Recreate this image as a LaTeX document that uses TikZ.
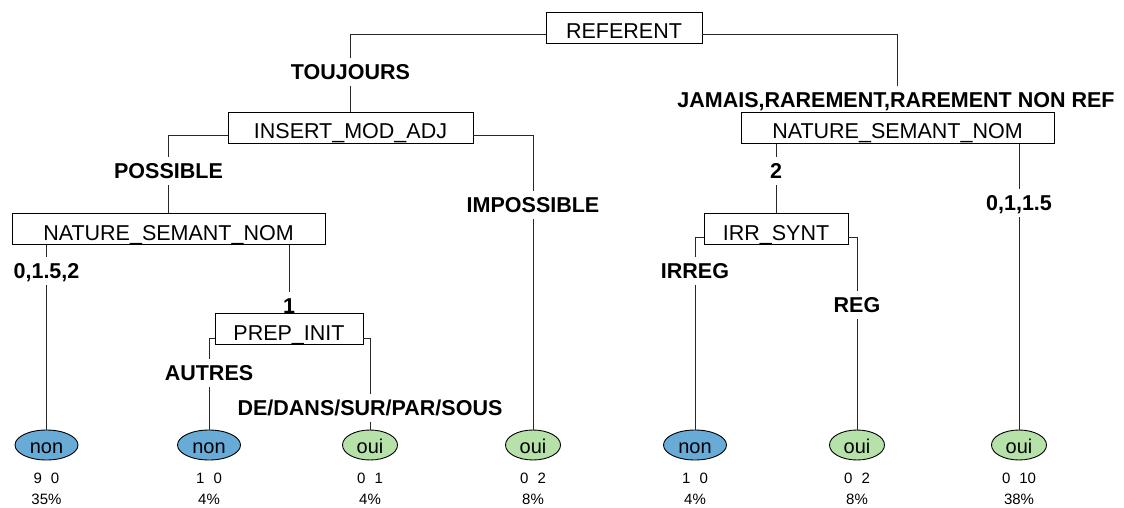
\documentclass[tikz,border=0pt]{standalone}
\usepackage{fontspec}
\setmainfont{Liberation Sans}
\usetikzlibrary{shapes.geometric,calc}
\definecolor{nonblue}{RGB}{104,171,214}
\definecolor{ouigreen}{RGB}{182,226,170}
\definecolor{lin}{RGB}{40,40,40}
\tikzset{
  splitbox/.style={draw=black, line width=0.9pt, inner xsep=0pt, inner ysep=4.5pt,
    text height=22pt, text depth=0pt,
    font=\fontsize{21.5}{24}\selectfont},
  edgelab/.style={inner xsep=0pt, inner ysep=6.3pt, text height=15.4pt, text depth=0pt,
    font=\fontsize{21.5}{24}\selectfont\bfseries},
  leafbox/.style={ellipse, draw=black, line width=0.9pt, inner sep=0pt, minimum height=30pt,
    text height=16pt, text depth=0pt,
    font=\fontsize{20}{22}\selectfont},
  nonleaf/.style={leafbox, fill=nonblue, minimum width=63pt},
  ouileaf/.style={leafbox, fill=ouigreen, minimum width=55pt},
  infotext/.style={inner sep=0pt, font=\fontsize{15}{17}\selectfont},
  conn/.style={draw=lin, line width=0.9pt}
}
\newcommand{\myleaf}[6]{%
  \node[#4] (#1) at (#2,445) {#3};
  \node[infotext] (#1c) at (#2,478) {#5};
  \node[infotext] (#1p) at (#2,499) {#6};
}
\begin{document}
\begin{tikzpicture}[x=1pt,y=-1pt]
\useasboundingbox (0,0) rectangle (1124,508);
% split boxes
\node[splitbox, minimum width=156pt] (ref)  at (624,27.5) {REFERENT};
\node[splitbox, minimum width=245pt] (ins)  at (350.5,128) {INSERT\_MOD\_ADJ};
\node[splitbox, minimum width=313pt] (natl) at (168.5,229) {NATURE\_SEMANT\_NOM};
\node[splitbox, minimum width=148pt] (prep) at (289,329) {PREP\_INIT};
\node[splitbox, minimum width=313pt] (natr) at (897.5,128) {NATURE\_SEMANT\_NOM};
\node[splitbox, minimum width=144pt] (irr)  at (776,229) {IRR\_SYNT};
% edge labels
\node[edgelab] (toujours) at (350.5,72) {TOUJOURS};
\node[edgelab] (jamais) at (896,100) {JAMAIS,RAREMENT,RAREMENT NON REF};
\node[edgelab] (possible) at (168.5,171) {POSSIBLE};
\node[edgelab] (impossible) at (533,205) {IMPOSSIBLE};
\node[edgelab] (l015) at (46.5,271) {0,1.5,2};
\node[edgelab] (l1) at (289,306) {1};
\node[edgelab] (autres) at (209,373) {AUTRES};
\node[edgelab] (dedans) at (370,408) {DE/DANS/SUR/PAR/SOUS};
\node[edgelab] (l2) at (776,171) {2};
\node[edgelab] (l0115) at (1019,203) {0,1,1.5};
\node[edgelab] (irreg) at (695,271) {IRREG};
\node[edgelab] (reg) at (857,305) {REG};
% leaves
\myleaf{lfa}{46.5}{non}{nonleaf}{9\hspace{9pt}0}{35\%}
\myleaf{lfb}{209}{non}{nonleaf}{1\hspace{9pt}0}{4\%}
\myleaf{lfc}{370}{oui}{ouileaf}{0\hspace{9pt}1}{4\%}
\myleaf{lfd}{533}{oui}{ouileaf}{0\hspace{9pt}2}{8\%}
\myleaf{lfe}{695}{non}{nonleaf}{1\hspace{9pt}0}{4\%}
\myleaf{lff}{857}{oui}{ouileaf}{0\hspace{9pt}2}{8\%}
\myleaf{lfg}{1019}{oui}{ouileaf}{0\hspace{9pt}10}{38\%}
% connectors
\draw[conn] (ref.west) ++(0,6.5) -| (toujours.north);
\draw[conn] (toujours.south) -- (ins.north);
\draw[conn] (ref.east) ++(0,6.5) -| (jamais.north -| natr.north);
\draw[conn] (ins.west) ++(0,7.5) -| (possible.north);
\draw[conn] (possible.south) -- (natl.north);
\draw[conn] (ins.east) ++(0,7.5) -| (impossible.north);
\draw[conn] (impossible.south) -- (lfd.north);
\draw[conn] (l015.north |- natl.south) -- (l015.north);
\draw[conn] (l015.south) -- (lfa.north);
\draw[conn] (l1.north |- natl.south) -- (l1.north);
\draw[conn] (prep.west) ++(0,9) -| (autres.north);
\draw[conn] (autres.south) -- (lfb.north);
\draw[conn] (prep.east) ++(0,9) -| (dedans.north);
\draw[conn] (dedans.south) -- (lfc.north);
\draw[conn] (l2.north |- natr.south) -- (l2.north);
\draw[conn] (l2.south) -- (irr.north);
\draw[conn] (l0115.north |- natr.south) -- (l0115.north);
\draw[conn] (l0115.south) -- (lfg.north);
\draw[conn] (irr.west) ++(0,8) -| (irreg.north);
\draw[conn] (irreg.south) -- (lfe.north);
\draw[conn] (irr.east) ++(0,8) -| (reg.north);
\draw[conn] (reg.south) -- (lff.north);
\end{tikzpicture}
\end{document}
